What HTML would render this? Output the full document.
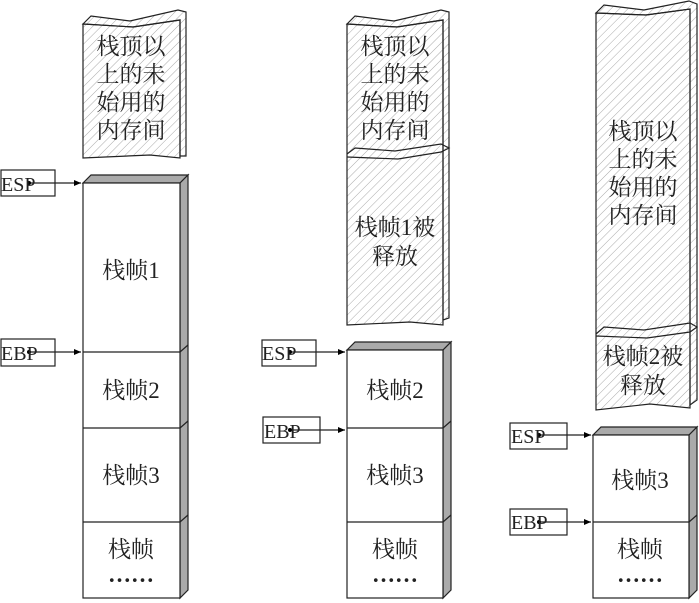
<!DOCTYPE html>
<html><head><meta charset="utf-8"><style>body{margin:0;background:#fff}svg{display:block}text{font-family:"Liberation Serif","Noto Serif CJK SC",serif;fill:#222}text.s{font-size:20px}text.b{font-size:23px;text-anchor:middle}</style></head><body>
<svg width="699" height="603" viewBox="0 0 699 603" xmlns="http://www.w3.org/2000/svg">
<defs>
<pattern id="h" width="6" height="6" patternUnits="userSpaceOnUse" patternTransform="rotate(45)"><line x1="0" y1="0" x2="0" y2="6" stroke="#aaa" stroke-width="1"/></pattern>
<marker id="a" markerWidth="8" markerHeight="8" refX="7" refY="4" orient="auto" markerUnits="userSpaceOnUse"><path d="M0,1 L7,4 L0,7z" fill="#000"/></marker>
</defs>
<g stroke="#222" stroke-width="1.2">
<path d="M83,24 L91,16 L130,21 L178,10 L186,12 L186,156 L180,156 L180,20 L133,27 L83,24 Z" fill="url(#h)"/>
<path d="M83,24 L133,27 L180,20 L180,158 L150,155 L83,158 Z" fill="url(#h)"/>
<path d="M83,183 L91,175 L188,175 L180,183 Z" fill="#aaa"/>
<path d="M180,183 L188,175 L188,590 L180,598 Z" fill="#aaa"/>
<rect x="83" y="183" width="97" height="415" fill="#fff"/>
<line x1="83" y1="352" x2="180" y2="352"/><line x1="83" y1="428" x2="180" y2="428"/><line x1="83" y1="522" x2="180" y2="522"/>
<line x1="180" y1="352" x2="188" y2="345"/><line x1="180" y1="428" x2="188" y2="421"/><line x1="180" y1="522" x2="188" y2="515"/>
<path d="M347,24 L355,16 L394,21 L441,10 L449,12 L449,318 L443,320 L443,20 L397,27 L347,24 Z" fill="url(#h)"/>
<path d="M347,24 L397,27 L443,20 L443,325 L410,322 L347,325 Z" fill="url(#h)"/>
<path d="M347,154 L355,148 L395,151 L441,144 L449,148 L441,152 L398,159 L347,157" fill="none"/>
<path d="M347,350 L355,342 L451,342 L443,350 Z" fill="#aaa"/>
<path d="M443,350 L451,342 L451,590 L443,598 Z" fill="#aaa"/>
<rect x="347" y="350" width="96" height="248" fill="#fff"/>
<line x1="347" y1="428" x2="443" y2="428"/><line x1="347" y1="522" x2="443" y2="522"/>
<line x1="443" y1="428" x2="451" y2="421"/><line x1="443" y1="522" x2="451" y2="515"/>
<path d="M596,13 L604,5 L644,10 L689,1 L697,4 L697,400 L690,405 L690,9 L646,15 L596,13 Z" fill="url(#h)"/>
<path d="M596,13 L646,15 L690,9 L690,408 L650,404 L596,410 Z" fill="url(#h)"/>
<path d="M596,334 L604,327 L644,330 L690,323 L697,327 L690,332 L647,338 L596,336" fill="none"/>
<path d="M593,435 L601,427 L697,427 L689,435 Z" fill="#aaa"/>
<path d="M689,435 L697,427 L697,590 L689,598 Z" fill="#aaa"/>
<rect x="593" y="435" width="96" height="163" fill="#fff"/>
<line x1="593" y1="522" x2="689" y2="522"/><line x1="689" y1="522" x2="697" y2="515"/>
<rect x="1" y="170" width="54" height="26" fill="#fff"/>
<rect x="1" y="339" width="54" height="27" fill="#fff"/>
<rect x="262" y="340" width="54" height="26" fill="#fff"/>
<rect x="263" y="417" width="57" height="26" fill="#fff"/>
<rect x="510" y="423" width="57" height="26" fill="#fff"/>
<rect x="510" y="509" width="57" height="26" fill="#fff"/>
<g marker-end="url(#a)">
<line x1="29" y1="183" x2="81" y2="183"/>
<line x1="29" y1="352" x2="81" y2="352"/>
<line x1="290" y1="352" x2="345" y2="352"/>
<line x1="290" y1="430" x2="345" y2="430"/>
<line x1="539" y1="435" x2="591" y2="435"/>
<line x1="539" y1="522" x2="591" y2="522"/>
</g>
</g>
<g fill="#000"><circle cx="29" cy="183" r="2"/><circle cx="29" cy="352" r="2"/><circle cx="290" cy="352" r="2"/><circle cx="290" cy="430" r="2"/><circle cx="539" cy="435" r="2"/><circle cx="539" cy="522" r="2"/></g>
<text class="s" x="1" y="191">ESP</text><text class="s" x="1" y="360">EBP</text>
<text class="s" x="262" y="360">ESP</text><text class="s" x="264" y="438">EBP</text>
<text class="s" x="511" y="443">ESP</text><text class="s" x="511" y="529">EBP</text>
<text class="b" x="131" y="54">栈顶以</text><text class="b" x="131" y="82">上的未</text><text class="b" x="131" y="110">始用的</text><text class="b" x="131" y="138">内存间</text>
<text class="b" x="131" y="278">栈帧1</text><text class="b" x="131" y="398">栈帧2</text><text class="b" x="131" y="483">栈帧3</text><text class="b" x="131" y="557">栈帧</text><text class="b" x="131" y="582" font-weight="bold">……</text>
<text class="b" x="395" y="54">栈顶以</text><text class="b" x="395" y="82">上的未</text><text class="b" x="395" y="110">始用的</text><text class="b" x="395" y="138">内存间</text>
<text class="b" x="395" y="235">栈帧1被</text><text class="b" x="395" y="264">释放</text>
<text class="b" x="395" y="398">栈帧2</text><text class="b" x="395" y="483">栈帧3</text><text class="b" x="395" y="557">栈帧</text><text class="b" x="395" y="582" font-weight="bold">……</text>
<text class="b" x="643" y="139">栈顶以</text><text class="b" x="643" y="167">上的未</text><text class="b" x="643" y="195">始用的</text><text class="b" x="643" y="223">内存间</text>
<text class="b" x="643" y="364">栈帧2被</text><text class="b" x="643" y="393">释放</text>
<text class="b" x="640" y="488">栈帧3</text><text class="b" x="640" y="557">栈帧</text><text class="b" x="640" y="582" font-weight="bold">……</text>
</svg>
</body></html>
